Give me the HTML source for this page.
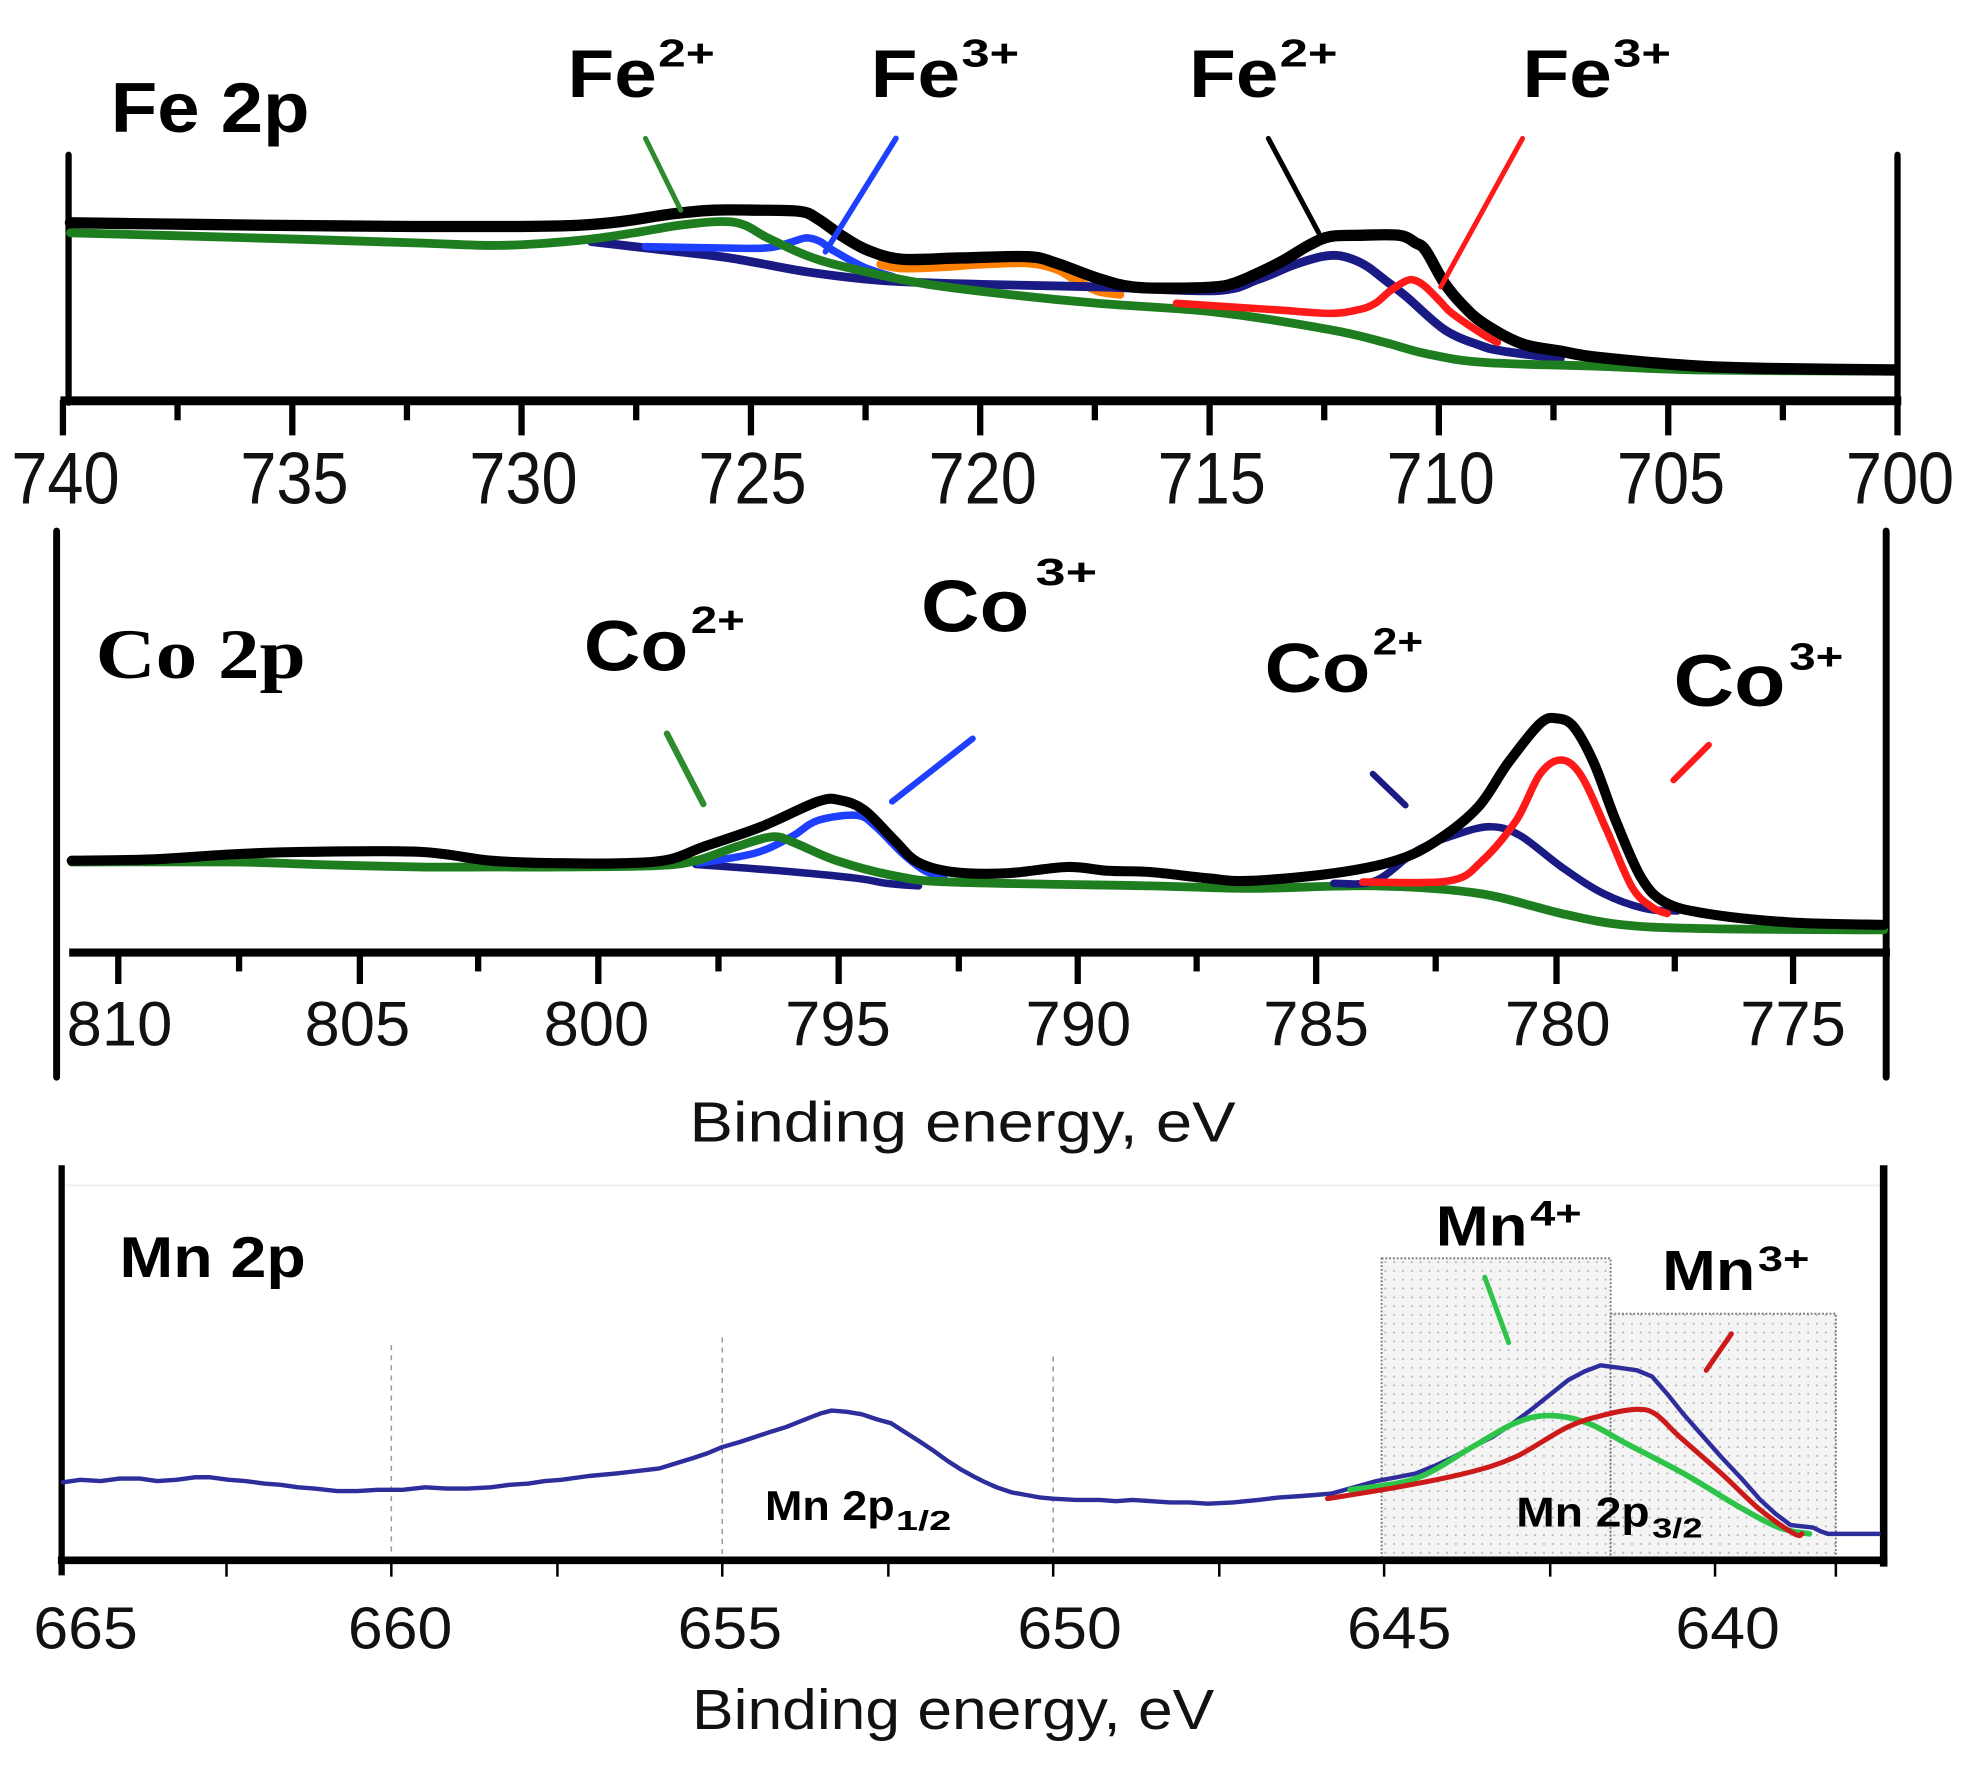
<!DOCTYPE html>
<html>
<head>
<meta charset="utf-8">
<style>
  html, body { margin: 0; padding: 0; background: #fff; }
  svg { display: block; }
  text { font-family: "Liberation Sans", Arial, sans-serif; }
  .b { font-weight: bold; }
</style>
</head>
<body>
<svg id="chart" width="1973" height="1776" viewBox="0 0 1568 1411.4" xmlns="http://www.w3.org/2000/svg">
  <defs>
    <pattern id="dots" width="7" height="7" patternUnits="userSpaceOnUse">
      <rect width="7" height="7" fill="#f4f4f4"/>
      <circle cx="2" cy="2" r="0.8" fill="#b5b5b5"/>
    </pattern>
  </defs>
  <rect width="1568" height="1411.4" fill="#fff"/>

  <!-- ================= Fe 2p panel ================= -->
  <g fill="none" stroke-linejoin="round" stroke-linecap="round">
    <line x1="54.5" y1="123" x2="54.5" y2="320" stroke="#000" stroke-width="5"/>
    <line x1="1508" y1="123" x2="1508" y2="320" stroke="#000" stroke-width="5"/>
    <line x1="48" y1="318.5" x2="1511" y2="318.5" stroke="#000" stroke-width="7" stroke-linecap="butt"/>
    <g stroke="#000" stroke-width="5" stroke-linecap="butt">
      <line x1="50" y1="318" x2="50" y2="346"/>
      <line x1="141.1" y1="318" x2="141.1" y2="334"/>
      <line x1="232.3" y1="318" x2="232.3" y2="346"/>
      <line x1="323.4" y1="318" x2="323.4" y2="334"/>
      <line x1="414.5" y1="318" x2="414.5" y2="346"/>
      <line x1="505.6" y1="318" x2="505.6" y2="334"/>
      <line x1="596.8" y1="318" x2="596.8" y2="346"/>
      <line x1="687.9" y1="318" x2="687.9" y2="334"/>
      <line x1="779" y1="318" x2="779" y2="346"/>
      <line x1="870.1" y1="318" x2="870.1" y2="334"/>
      <line x1="961.3" y1="318" x2="961.3" y2="346"/>
      <line x1="1052.4" y1="318" x2="1052.4" y2="334"/>
      <line x1="1143.5" y1="318" x2="1143.5" y2="346"/>
      <line x1="1234.6" y1="318" x2="1234.6" y2="334"/>
      <line x1="1325.8" y1="318" x2="1325.8" y2="346"/>
      <line x1="1416.9" y1="318" x2="1416.9" y2="334"/>
      <line x1="1508" y1="318" x2="1508" y2="346"/>
    </g>

    <polyline class="c" stroke="#ff8000" stroke-width="7" points="700,210 717,213 750,212 778,210 817,209 840,214 854,222 872,231 890,234"/>
    <polyline class="c" stroke="#1a1a85" stroke-width="7" points="470,192 513,197 580,205 641,216 702,223 780,226 874,228 966,231 1000,222 1027,211 1050,204 1063,203 1075,206 1087,212 1100,222 1118,236 1148,262 1175,274 1194,279 1240,285"/>
    <polyline class="c" stroke="#1f3fff" stroke-width="6" points="513,196 570,197 610,197 630,192 641,189 652,192 662,199 686,212 710,220"/>
    <polyline class="c" stroke="#1e7d1e" stroke-width="7" points="56,185 200,189 330,193 397,195 460,191 504,185 540,179 574,176 592,179 610,189 641,203 671,212 732,225 793,233 872,241 966,248 1057,262 1100,272 1133,281 1179,288 1270,291 1351,294 1505,295"/>
    <polyline class="c" stroke="#ff1a1a" stroke-width="6" points="935,241 1011,246 1057,249 1080,246 1093,241 1105,231 1118,223 1125,223 1133,228 1145,240 1154,249 1179,266 1190,272"/>
    <polyline class="c" stroke="#000" stroke-width="9" points="56,177 130,178 210,179 330,180 413,180 460,179 494,176 534,170 567,167 600,167 636,168 650,174 670,188 690,199 717,206 763,205 817,204 839,209 872,221 900,228 935,229 966,228 981,225 1000,217 1020,207 1040,195 1057,188 1080,187 1112,187 1125,193 1133,199 1148,225 1163,243 1179,257 1209,273 1240,279 1270,284 1351,291 1420,293 1505,294"/>

    <line x1="513" y1="110" x2="541" y2="167" stroke="#2e8b2e" stroke-width="4"/>
    <line x1="712" y1="110" x2="656" y2="200" stroke="#1f3fff" stroke-width="4.5"/>
    <line x1="1008" y1="110" x2="1048" y2="185" stroke="#000" stroke-width="4"/>
    <line x1="1210" y1="110" x2="1145" y2="228" stroke="#ff1a1a" stroke-width="4"/>
  </g>

  <g fill="#000" class="b">
    <text x="88" y="105" font-size="56" textLength="158" lengthAdjust="spacingAndGlyphs">Fe 2p</text>
    <text x="451" y="77" font-size="54" textLength="71" lengthAdjust="spacingAndGlyphs">Fe</text>
    <text x="523" y="53" font-size="31" textLength="45" lengthAdjust="spacingAndGlyphs">2+</text>
    <text x="692" y="77" font-size="54" textLength="71" lengthAdjust="spacingAndGlyphs">Fe</text>
    <text x="764" y="53" font-size="31" textLength="46" lengthAdjust="spacingAndGlyphs">3+</text>
    <text x="945" y="77" font-size="54" textLength="71" lengthAdjust="spacingAndGlyphs">Fe</text>
    <text x="1017" y="53" font-size="31" textLength="46" lengthAdjust="spacingAndGlyphs">2+</text>
    <text x="1210" y="77" font-size="54" textLength="71" lengthAdjust="spacingAndGlyphs">Fe</text>
    <text x="1282" y="53" font-size="31" textLength="46" lengthAdjust="spacingAndGlyphs">3+</text>
  </g>
  <g fill="#111" font-size="58" text-anchor="middle">
    <text x="52" y="400" textLength="86" lengthAdjust="spacingAndGlyphs">740</text>
    <text x="234" y="400" textLength="86" lengthAdjust="spacingAndGlyphs">735</text>
    <text x="416" y="400" textLength="86" lengthAdjust="spacingAndGlyphs">730</text>
    <text x="598" y="400" textLength="86" lengthAdjust="spacingAndGlyphs">725</text>
    <text x="781" y="400" textLength="86" lengthAdjust="spacingAndGlyphs">720</text>
    <text x="963" y="400" textLength="86" lengthAdjust="spacingAndGlyphs">715</text>
    <text x="1145" y="400" textLength="86" lengthAdjust="spacingAndGlyphs">710</text>
    <text x="1328" y="400" textLength="86" lengthAdjust="spacingAndGlyphs">705</text>
    <text x="1510" y="400" textLength="86" lengthAdjust="spacingAndGlyphs">700</text>
  </g>

  <!-- ================= Co 2p panel ================= -->
  <g fill="none" stroke-linejoin="round" stroke-linecap="round">
    <line x1="45" y1="422" x2="45" y2="856" stroke="#000" stroke-width="5.5"/>
    <line x1="1499" y1="422" x2="1499" y2="856" stroke="#000" stroke-width="5.5"/>
    <line x1="55" y1="757" x2="1502" y2="757" stroke="#000" stroke-width="6.5" stroke-linecap="butt"/>
    <g stroke="#000" stroke-width="5" stroke-linecap="butt">
      <line x1="94" y1="757" x2="94" y2="782"/>
      <line x1="190" y1="757" x2="190" y2="772"/>
      <line x1="286" y1="757" x2="286" y2="782"/>
      <line x1="380" y1="757" x2="380" y2="772"/>
      <line x1="475.5" y1="757" x2="475.5" y2="782"/>
      <line x1="571" y1="757" x2="571" y2="772"/>
      <line x1="666.5" y1="757" x2="666.5" y2="782"/>
      <line x1="762" y1="757" x2="762" y2="772"/>
      <line x1="856.5" y1="757" x2="856.5" y2="782"/>
      <line x1="951" y1="757" x2="951" y2="772"/>
      <line x1="1046" y1="757" x2="1046" y2="782"/>
      <line x1="1141" y1="757" x2="1141" y2="772"/>
      <line x1="1237" y1="757" x2="1237" y2="782"/>
      <line x1="1331" y1="757" x2="1331" y2="772"/>
      <line x1="1425" y1="757" x2="1425" y2="782"/>
    </g>

    <polyline class="c" stroke="#1a1a85" stroke-width="6" points="553,687 620,692 681,698 705,702 730,704"/>
    <polyline class="c" stroke="#1f3fff" stroke-width="6" points="555,686 600,678 629,665 650,652 681,648 696,657 717,678 735,692 750,697"/>
    <polyline class="c" stroke="#1e7d1e" stroke-width="7" points="57,685 184,685 250,687 334,689 390,689 444,689 520,688 553,684 585,673 614,665 632,670 665,684 711,696 757,701 914,704 994,706 1093,704 1175,710 1241,726 1290,735 1356,738 1497,739"/>
    <polyline class="c" stroke="#1a1a85" stroke-width="6" points="1060,702 1093,700 1126,676 1158,663 1185,657 1208,664 1241,689 1274,710 1307,722 1333,724"/>
    <polyline class="c" stroke="#ff1a1a" stroke-width="6" points="1083,701 1152,700 1178,684 1205,652 1224,615 1241,604 1257,617 1277,660 1297,705 1313,721 1325,726"/>
    <polyline class="c" stroke="#000" stroke-width="8" points="57,684 120,683 184,679 241,677 334,677 390,684 444,686 497,686 532,683 559,673 605,657 650,637 668,636 687,644 711,668 729,685 757,693 800,694 848,689 880,692 914,693 960,698 994,700 1060,694 1109,684 1142,668 1175,641 1198,607 1224,575 1238,571 1251,578 1267,607 1284,652 1304,697 1323,717 1356,726 1422,733 1497,735"/>

    <line x1="530" y1="583" x2="559" y2="639" stroke="#2e8b2e" stroke-width="5"/>
    <line x1="773" y1="587" x2="709" y2="637" stroke="#1f3fff" stroke-width="5"/>
    <line x1="1091" y1="615" x2="1117" y2="640" stroke="#1a1a85" stroke-width="5"/>
    <line x1="1358" y1="592" x2="1330" y2="620" stroke="#ff1a1a" stroke-width="5"/>
  </g>

  <g fill="#000">
    <text x="76" y="539" font-size="56" font-weight="bold" textLength="167" lengthAdjust="spacingAndGlyphs" style="font-family:'Liberation Serif','Times New Roman',serif">Co 2p</text>
    <text class="b" x="464" y="533" font-size="57" textLength="83" lengthAdjust="spacingAndGlyphs">Co</text>
    <text class="b" x="549" y="503" font-size="30" textLength="43" lengthAdjust="spacingAndGlyphs">2+</text>
    <text class="b" x="732" y="502" font-size="58" textLength="86" lengthAdjust="spacingAndGlyphs">Co</text>
    <text class="b" x="823" y="465" font-size="30" textLength="49" lengthAdjust="spacingAndGlyphs">3+</text>
    <text class="b" x="1005" y="550" font-size="55" textLength="84" lengthAdjust="spacingAndGlyphs">Co</text>
    <text class="b" x="1091" y="520" font-size="30" textLength="40" lengthAdjust="spacingAndGlyphs">2+</text>
    <text class="b" x="1330" y="561" font-size="58" textLength="89" lengthAdjust="spacingAndGlyphs">Co</text>
    <text class="b" x="1422" y="532" font-size="30" textLength="43" lengthAdjust="spacingAndGlyphs">3+</text>
  </g>
  <g fill="#111" font-size="50" text-anchor="middle">
    <text x="95" y="831" textLength="84" lengthAdjust="spacingAndGlyphs">810</text>
    <text x="284" y="831" textLength="84" lengthAdjust="spacingAndGlyphs">805</text>
    <text x="474" y="831" textLength="84" lengthAdjust="spacingAndGlyphs">800</text>
    <text x="666" y="831" textLength="84" lengthAdjust="spacingAndGlyphs">795</text>
    <text x="857" y="831" textLength="84" lengthAdjust="spacingAndGlyphs">790</text>
    <text x="1046" y="831" textLength="84" lengthAdjust="spacingAndGlyphs">785</text>
    <text x="1238" y="831" textLength="84" lengthAdjust="spacingAndGlyphs">780</text>
    <text x="1425" y="831" textLength="84" lengthAdjust="spacingAndGlyphs">775</text>
  </g>
  <text x="548" y="907" font-size="45" fill="#111" textLength="434" lengthAdjust="spacingAndGlyphs">Binding energy, eV</text>

  <!-- ================= Mn 2p panel ================= -->
  <g fill="none">
    <line x1="52" y1="942" x2="1494" y2="942" stroke="#f0f0f0" stroke-width="1.5"/>
    <g stroke="#9a9a9a" stroke-width="1.2" stroke-dasharray="4 4">
      <line x1="311" y1="1069" x2="311" y2="1237"/>
      <line x1="574" y1="1063" x2="574" y2="1237"/>
      <line x1="837" y1="1078" x2="837" y2="1237"/>
    </g>
    <rect x="1098" y="1000" width="182" height="240" fill="url(#dots)" stroke="#777" stroke-width="1.5" stroke-dasharray="1.5 1.5"/>
    <rect x="1280" y="1044" width="179" height="196" fill="url(#dots)" stroke="#777" stroke-width="1.5" stroke-dasharray="1.5 1.5"/>

    <line x1="49" y1="926" x2="49" y2="1252" stroke="#000" stroke-width="5"/>
    <line x1="1497" y1="926" x2="1497" y2="1245" stroke="#000" stroke-width="6"/>
    <line x1="46" y1="1240" x2="1500" y2="1240" stroke="#000" stroke-width="6" stroke-linecap="butt"/>
    <g stroke="#000" stroke-width="2">
      <line x1="180" y1="1240" x2="180" y2="1253"/>
      <line x1="311" y1="1240" x2="311" y2="1253"/>
      <line x1="443" y1="1240" x2="443" y2="1253"/>
      <line x1="574" y1="1240" x2="574" y2="1253"/>
      <line x1="706" y1="1240" x2="706" y2="1253"/>
      <line x1="837" y1="1240" x2="837" y2="1253"/>
      <line x1="969" y1="1240" x2="969" y2="1253"/>
      <line x1="1100" y1="1240" x2="1100" y2="1253"/>
      <line x1="1232" y1="1240" x2="1232" y2="1253"/>
      <line x1="1363" y1="1240" x2="1363" y2="1253"/>
      <line x1="1459" y1="1240" x2="1459" y2="1253"/>
    </g>
  </g>

  <g fill="#000" class="b">
    <text x="95" y="1015" font-size="46" textLength="148" lengthAdjust="spacingAndGlyphs">Mn 2p</text>
    <text x="1141" y="990" font-size="45" textLength="73" lengthAdjust="spacingAndGlyphs">Mn</text>
    <text x="1216" y="974" font-size="28" textLength="41" lengthAdjust="spacingAndGlyphs">4+</text>
    <text x="1321" y="1025" font-size="45" textLength="74" lengthAdjust="spacingAndGlyphs">Mn</text>
    <text x="1397" y="1010" font-size="28" textLength="41" lengthAdjust="spacingAndGlyphs">3+</text>
    <text x="608" y="1208" font-size="33" textLength="103" lengthAdjust="spacingAndGlyphs">Mn 2p</text>
    <text x="712" y="1216" font-size="22" textLength="44" lengthAdjust="spacingAndGlyphs">1/2</text>
    <text x="1205" y="1213" font-size="33" textLength="106" lengthAdjust="spacingAndGlyphs">Mn 2p</text>
    <text x="1313" y="1222" font-size="22" textLength="40" lengthAdjust="spacingAndGlyphs">3/2</text>
  </g>

  <g fill="none" stroke-linejoin="round" stroke-linecap="round">
    <polyline stroke="#2d2d9b" stroke-width="3.5" points="50,1178 64,1176 80,1177 95,1175 111,1175 125,1177 140,1176 155,1174 167,1174 182,1176 195,1177 210,1179 223,1180 237,1182 250,1183 268,1185 284,1185 300,1184 320,1184 338,1182 355,1183 372,1183 390,1182 405,1180 420,1179 433,1177 446,1176 468,1173 490,1171 507,1169 524,1167 537,1163 550,1159 562,1155 574,1150 588,1146 600,1142 612,1138 625,1134 635,1130 645,1126 653,1123 661,1121 673,1122 685,1124 697,1128 708,1131 719,1138 730,1145 742,1153 753,1161 764,1168 775,1174 783,1178 792,1182 804,1186 815,1188 826,1190 837,1191 855,1192 874,1192 887,1193 900,1192 915,1193 930,1194 945,1194 960,1195 980,1194 1000,1192 1017,1190 1033,1189 1046,1188 1058,1187 1076,1182 1094,1177 1110,1174 1125,1171 1140,1165 1155,1158 1170,1150 1186,1142 1201,1132 1216,1121 1231,1109 1246,1097 1259,1090 1272,1085 1287,1087 1301,1089 1313,1094 1326,1109 1338,1124 1353,1141 1368,1158 1384,1175 1399,1192 1411,1203 1423,1212 1432,1213 1441,1214 1447,1217 1453,1219 1473,1219 1493,1219"/>
    <polyline class="c" stroke="#2ec44a" stroke-width="4.5" points="1073,1184 1125,1175 1170,1150 1204,1131 1231,1125 1262,1131 1292,1147 1338,1171 1383,1198 1414,1214 1438,1219"/>
    <polyline class="c" stroke="#cc1a1a" stroke-width="4" points="1055,1191 1110,1182 1164,1171 1204,1158 1246,1134 1277,1124 1301,1120 1316,1124 1335,1142 1368,1171 1399,1200 1426,1219 1432,1219"/>
    <line x1="1180" y1="1015" x2="1199" y2="1067" stroke="#2ec44a" stroke-width="4"/>
    <line x1="1376" y1="1060" x2="1356" y2="1089" stroke="#cc1a1a" stroke-width="4"/>
  </g>

  <g fill="#111" font-size="47" text-anchor="middle">
    <text x="68" y="1310" textLength="83" lengthAdjust="spacingAndGlyphs">665</text>
    <text x="318" y="1310" textLength="83" lengthAdjust="spacingAndGlyphs">660</text>
    <text x="580" y="1310" textLength="83" lengthAdjust="spacingAndGlyphs">655</text>
    <text x="850" y="1310" textLength="83" lengthAdjust="spacingAndGlyphs">650</text>
    <text x="1112" y="1310" textLength="83" lengthAdjust="spacingAndGlyphs">645</text>
    <text x="1373" y="1310" textLength="83" lengthAdjust="spacingAndGlyphs">640</text>
  </g>
  <text x="550" y="1374" font-size="45" fill="#111" textLength="415" lengthAdjust="spacingAndGlyphs">Binding energy, eV</text>
</svg>
<script>
(function(){
  var NS = "http://www.w3.org/2000/svg";
  var pls = document.querySelectorAll("polyline.c");
  for (var i = 0; i < pls.length; i++) {
    var pl = pls[i];
    var raw = pl.getAttribute("points").trim().split(/\s+/);
    var p = [];
    for (var j = 0; j < raw.length; j++) {
      var xy = raw[j].split(",");
      p.push([parseFloat(xy[0]), parseFloat(xy[1])]);
    }
    if (p.length < 3) continue;
    var d = "M" + p[0][0] + "," + p[0][1];
    var t = 0.5;
    for (var k = 0; k < p.length - 1; k++) {
      var p0 = p[k - 1] || p[k], p1 = p[k], p2 = p[k + 1], p3 = p[k + 2] || p[k + 1];
      var c1x = p1[0] + (p2[0] - p0[0]) / 6 * t * 2;
      var c1y = p1[1] + (p2[1] - p0[1]) / 6 * t * 2;
      var c2x = p2[0] - (p3[0] - p1[0]) / 6 * t * 2;
      var c2y = p2[1] - (p3[1] - p1[1]) / 6 * t * 2;
      d += " C" + c1x.toFixed(1) + "," + c1y.toFixed(1) + " " + c2x.toFixed(1) + "," + c2y.toFixed(1) + " " + p2[0] + "," + p2[1];
    }
    var path = document.createElementNS(NS, "path");
    path.setAttribute("d", d);
    path.setAttribute("stroke", pl.getAttribute("stroke"));
    path.setAttribute("stroke-width", pl.getAttribute("stroke-width"));
    path.setAttribute("fill", "none");
    path.setAttribute("stroke-linejoin", "round");
    path.setAttribute("stroke-linecap", "round");
    pl.parentNode.replaceChild(path, pl);
  }
})();
</script>
</body>
</html>
